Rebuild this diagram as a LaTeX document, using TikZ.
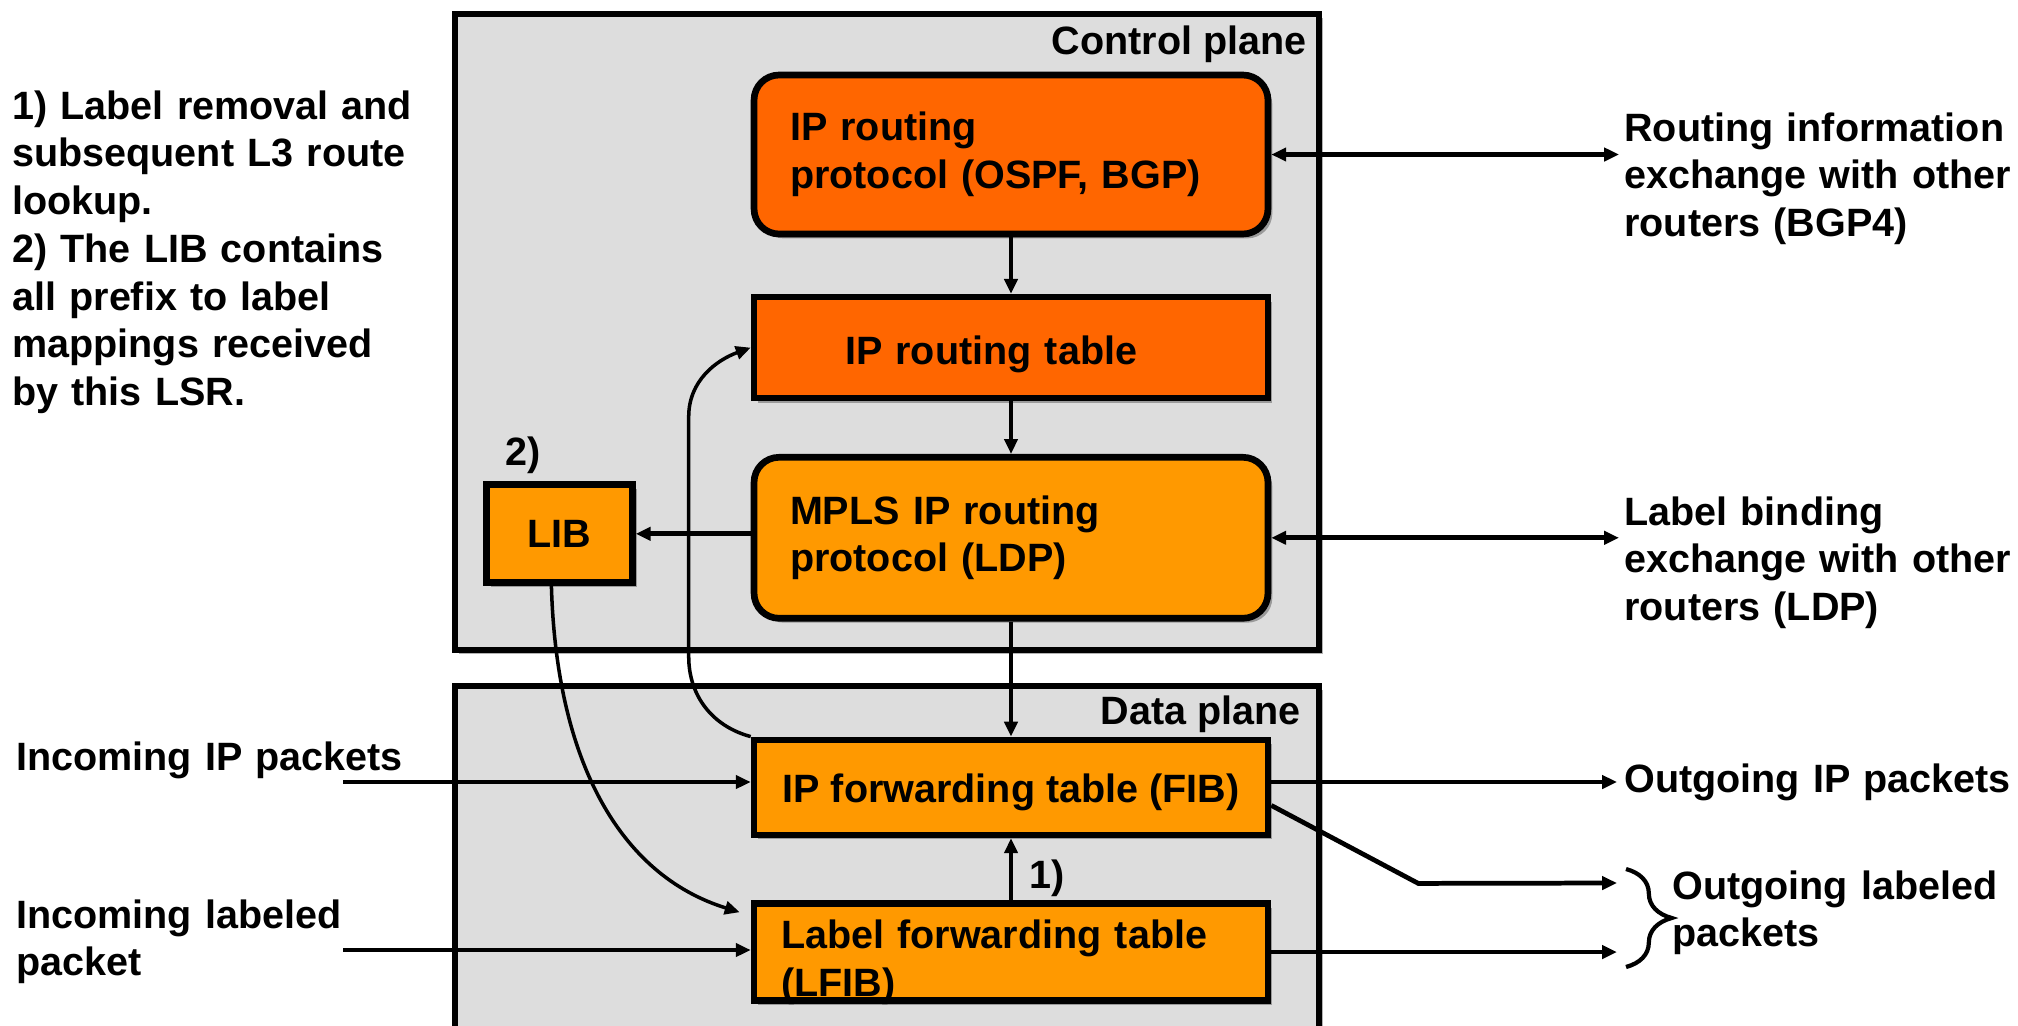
\documentclass[tikz,border=0pt]{standalone}
\usepackage{fontspec}
\setmainfont{Liberation Sans}
\usepackage{xcolor}
\usepackage{tikz}
\usetikzlibrary{positioning,arrows.meta,calc,shadows,decorations.pathreplacing}
\definecolor{ctrlorange}{HTML}{FF6600}
\definecolor{fwdorange}{HTML}{FF9900}
\definecolor{planegray}{HTML}{DDDDDD}
\tikzset{
    >={Triangle[length=8.5pt,width=7.5pt]},
    softshadow/.style={drop shadow={shadow xshift=2.5pt, shadow yshift=-2.5pt, opacity=0.3, fill=black}},
    plane/.style={rectangle, draw, line width=3.2pt, fill=planegray, softshadow},
    planelbl/.style={inner sep=0pt},
    roundbox/.style={rectangle, draw, rounded corners=0.5cm, line width=3.8pt, minimum width=10.28cm, align=left, softshadow},
    sqbox/.style={rectangle, draw, line width=3.8pt, align=left, softshadow},
    arrow/.style={->, line width=2.7pt},
    twoway/.style={<->, line width=2.7pt},
    curve/.style={->, line width=2pt},
    brace/.style={decorate, decoration={brace, amplitude=26pt}, line width=2.4pt},
    note/.style={inner sep=0pt, align=left, text width=8.6cm}
}

\begin{document}
\begin{tikzpicture}[x=0.02cm, y=-0.02cm, font=\bfseries\fontsize{22.5}{27.2}\selectfont]
\useasboundingbox (0,0) rectangle (2018,1025);

% planes
\node[plane, minimum width=17.28cm, minimum height=12.72cm] (ctrl) at (887,332) {};
\node[plane, minimum width=17.28cm, minimum height=8cm, anchor=north] (data) at (887,683) {};
\node[planelbl, anchor=east] (ctrllbl) at (1307,44) {Control plane};
\node[planelbl, anchor=east] (datalbl) at (1301,714) {Data plane};

% control plane
\node[roundbox, fill=ctrlorange, minimum height=3.18cm, text width=8.84cm] (proto) at (1011,154.5) {IP routing\\protocol (OSPF, BGP)};
\node[sqbox, fill=ctrlorange, minimum width=10.28cm, minimum height=2.02cm, text width=6.64cm, text height=23.5pt, below=1.13cm of proto] (tbl) {IP routing table};
\node[roundbox, fill=fwdorange, minimum height=3.22cm, text width=8.84cm, below=1.05cm of tbl] (mpls) {MPLS IP routing\\protocol (LDP)};
\node[sqbox, fill=fwdorange, minimum width=2.92cm, minimum height=1.96cm, align=center, left=2.3cm of mpls, yshift=0.08cm] (lib) {LIB};
\node (two) at (523,455) {2)};

% data plane
\node[sqbox, fill=fwdorange, minimum width=10.28cm, minimum height=1.9cm, align=center, text height=22pt, below=2.3cm of mpls] (fib) {IP forwarding table (FIB)};
\node[sqbox, fill=fwdorange, minimum width=10.28cm, minimum height=1.94cm, text width=9.2cm, text depth=20pt, below=1.24cm of fib] (lfib) {Label forwarding table\\(LFIB)};

\draw[arrow] (proto.south) -- (tbl.north);
\draw[arrow] (tbl.south) -- (mpls.north);
\draw[arrow] (mpls.south) -- (fib.north);
\draw[arrow] (lfib.north) -- node[right=0.2cm, pos=0.35] (one) {1)} (fib.south);
\draw[arrow] (mpls.west |- lib.east) -- (lib.east);
\draw[curve] (fib.north west) to[out=165, in=-90] ++(-62,-80) -- ++(0,-240) to[out=90, in=200] (tbl.west);
\draw[curve] ([xshift=-0.16cm]lib.south) .. controls +(5,175) and +(-120,-37) .. ([shift={(-11,12)}]lfib.north west);

% outside
\coordinate (rtr) at (1619,155);
\coordinate (ldp) at (1619,538);
\draw[twoway] (proto.east) -- (proto.east -| rtr);
\draw[twoway] (mpls.east) -- (mpls.east -| ldp);
\node[note, anchor=base west] (rtrtxt) at (1624,141) {Routing information\\exchange with other\\routers (BGP4)};
\node[note, anchor=base west] (ldptxt) at (1624,525) {Label binding\\exchange with other\\routers (LDP)};
\node[note, anchor=base west] (leftnote) at (12,119) {1) Label removal and\\subsequent L3 route\\lookup.\\2) The LIB contains\\all prefix to label\\mappings received\\by this LSR.};

\coordinate (inipsrc) at (343,782);
\coordinate (inlblsrc) at (343,950);
\draw[arrow] (inipsrc) -- (inipsrc -| fib.west);
\draw[arrow] (inlblsrc) -- (inlblsrc -| lfib.west);
\node[note, anchor=base west] (iniptxt) at (16,770) {Incoming IP packets};
\node[note, anchor=base west] (inlbltxt) at (16,928) {Incoming labeled\\packet};

\coordinate (ipdst) at (1617,782);
\coordinate (lbldst) at (1617,883);
\draw[arrow] (ipdst -| fib.east) -- (ipdst);
\draw[arrow] ([yshift=-0.36cm]fib.east) -- ++(147,78) -- (lbldst);
\draw[arrow] (lfib.east) -- (lfib.east -| lbldst);
\node[note, anchor=base west] (iptxt) at (1624,792) {Outgoing IP packets};

\coordinate (bracetop) at (1626,869);
\coordinate (bracebot) at (1626,967);
\draw[brace] (bracetop) -- (bracebot);
\node[note, anchor=base west] (lbltxt) at (1672,899) {Outgoing labeled\\packets};

\end{tikzpicture}
\end{document}
